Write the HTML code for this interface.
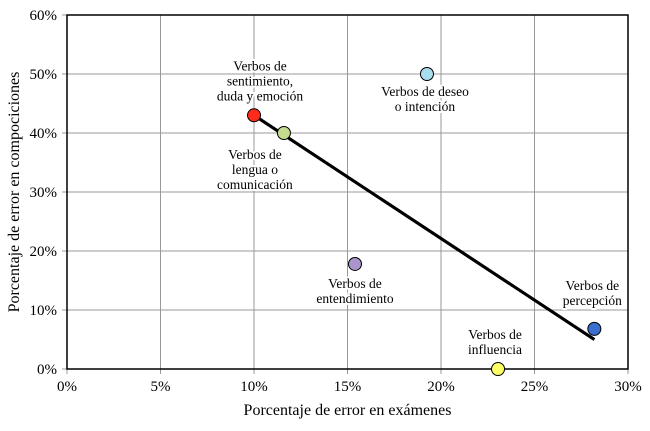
<!DOCTYPE html>
<html><head><meta charset="utf-8"><style>
body{margin:0;background:#fff;}
svg text{font-family:"Liberation Serif",serif;fill:#000;}
</style></head><body>
<svg width="650" height="426" id="c"></svg>
<script>
const xTicks=[0,5,10,15,20,25,30];
const yTicks=[0,10,20,30,40,50,60];
const names=[["Verbos de","sentimiento,","duda y emoción"],["Verbos de","lengua o","comunicación"],["Verbos de deseo","o intención"],["Verbos de","entendimiento"],["Verbos de","influencia"],["Verbos de","percepción"]];
const xVals=[10.0,11.6,19.25,15.4,23.05,28.2];
const yVals=[43.0,40.0,50.0,17.8,0.0,6.8];
const colors=["#ff2a1a","#c5dc8e","#a9dcef","#a995c9","#ffff66","#3a6fd0"];
const labelOff=[[6,-45],[-29,26],[-2,22],[0,24],[-3,-30],[-2,-39]];
const trend=[[10.0,43.0],[28.2,5.0]];
const L=67,R=628,T=15,B=369;
const sx=v=>L+(v-0)/30*(R-L), sy=v=>B-(v/60)*(B-T);
const svg=document.getElementById('c'),NS="http://www.w3.org/2000/svg";
function mk(t,a,p){const e=document.createElementNS(NS,t);for(const k in a)e.setAttribute(k,a[k]);(p||svg).appendChild(e);return e;}
xTicks.forEach(t=>{const g=mk('line',{x1:sx(t),x2:sx(t),y1:T,y2:B+5,stroke:'#999','stroke-width':1});

const tx=mk('text',{x:sx(t),y:B+22,'text-anchor':'middle','font-size':15});tx.textContent=t+'%';
});
yTicks.forEach(t=>{const g=mk('line',{x1:L-5,x2:R,y1:sy(t),y2:sy(t),stroke:'#999','stroke-width':1});

const tx=mk('text',{x:L-10,y:sy(t)+5,'text-anchor':'end','font-size':15});tx.textContent=t+'%';
});
const fr=mk('rect',{x:L,y:T,width:R-L,height:B-T,fill:'none',stroke:'#000','stroke-width':1.5});

const tl=mk('line',{x1:sx(trend[0][0]),y1:sy(trend[0][1]),x2:sx(trend[1][0]),y2:sy(trend[1][1]),stroke:'#000','stroke-width':3});

xVals.forEach((x,i)=>{
 const cx=sx(x)+labelOff[i][0],y0=sy(yVals[i])+labelOff[i][1];
 const tx=mk('text',{'text-anchor':'middle','font-size':13.5,stroke:'#fff','stroke-width':4,'paint-order':'stroke','stroke-linejoin':'round'});
 
 names[i].forEach((s,j)=>{const ts=mk('tspan',{x:cx,y:y0+j*15},tx);ts.textContent=s;});
});
const tl2=mk('line',{x1:sx(trend[0][0]),y1:sy(trend[0][1]),x2:sx(trend[1][0]),y2:sy(trend[1][1]),stroke:'#000','stroke-width':3});

xVals.forEach((x,i)=>{
 const c=mk('circle',{cx:sx(x),cy:sy(yVals[i]),r:6.5,fill:colors[i],stroke:'#000','stroke-width':1});
 
});
const xt=mk('text',{x:(L+R)/2,y:415,'text-anchor':'middle','font-size':16});xt.textContent='Porcentaje de error en exámenes';

const yt=mk('text',{x:0,y:0,'text-anchor':'middle','font-size':16,transform:`translate(19,${(T+B)/2}) rotate(-90)`});yt.textContent='Porcentaje de error en compociciones';

</script>
</body></html>
